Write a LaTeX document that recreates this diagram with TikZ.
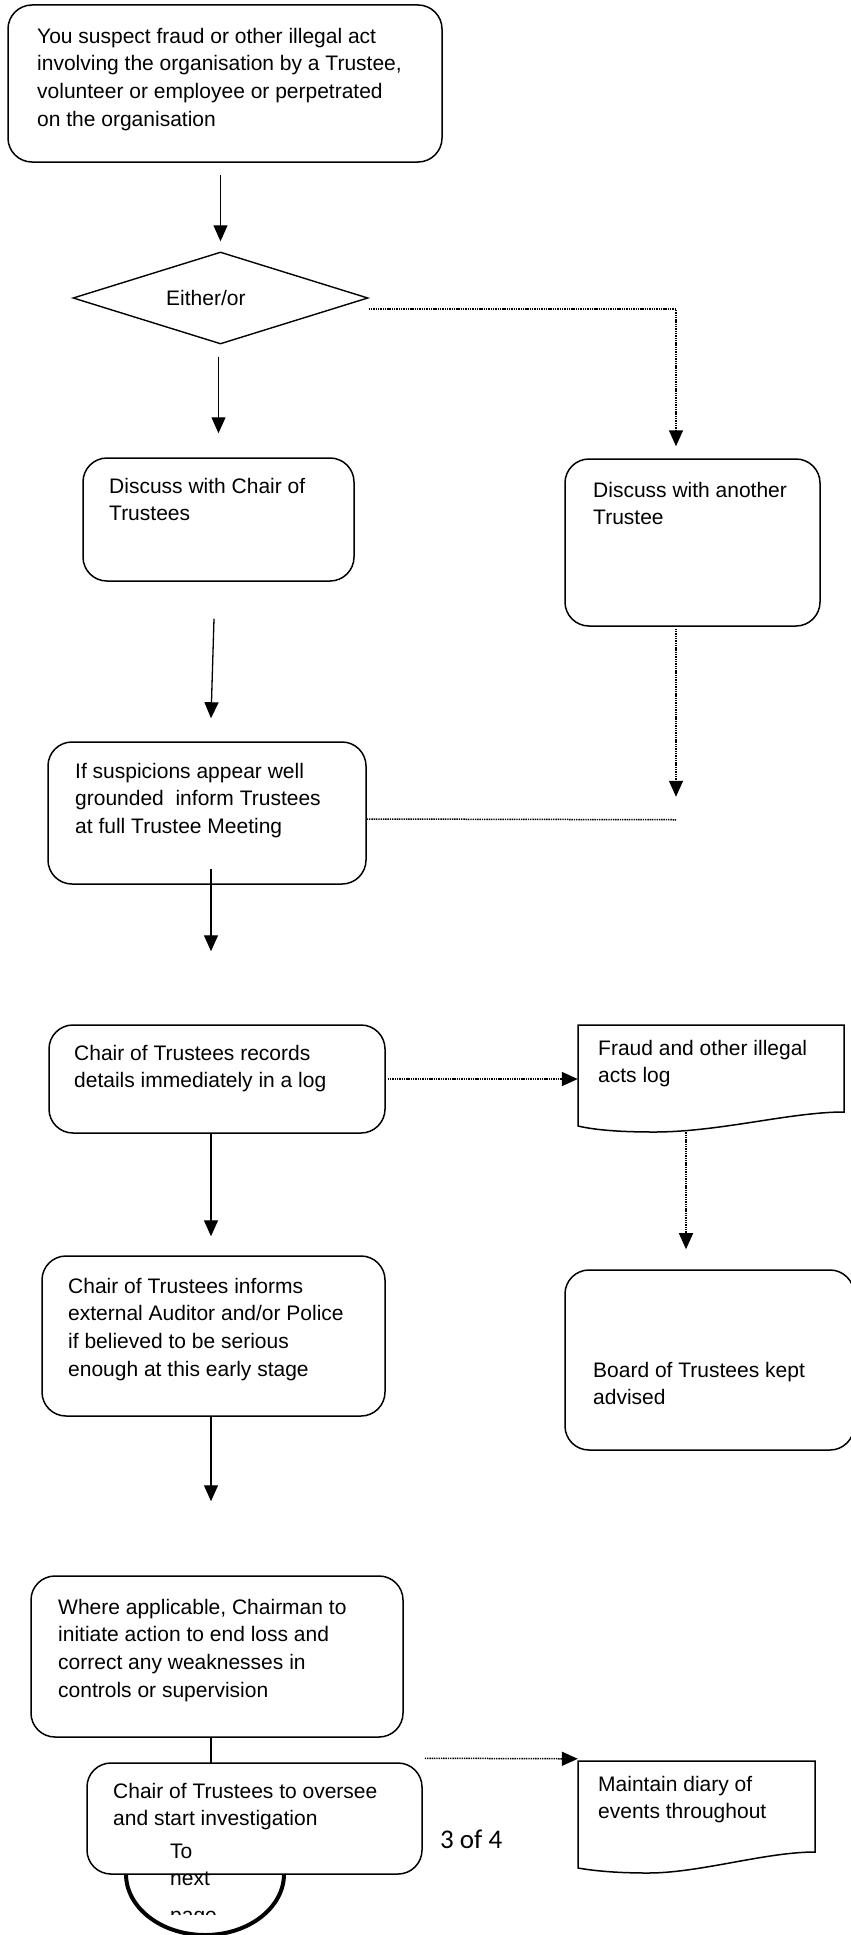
\documentclass[tikz,border=0pt]{standalone}
\usepackage{fontspec}
\setmainfont{Liberation Sans}
\newfontfamily\carlito{Carlito}
\usetikzlibrary{arrows.meta,calc,shapes.geometric}
\begin{document}
\begin{tikzpicture}[x=1pt,y=-1pt,
  box/.style={draw,line width=1.5pt,rounded corners=24pt,fill=white,inner sep=0pt},
  txt/.style={anchor=base west,align=left,inner sep=0pt,font=\fontsize{21}{27.8}\selectfont},
  tip/.style={-{Triangle[length=16pt,width=14pt]}},
  arr/.style={line width=1.3pt,tip},
  plain/.style={line width=1.3pt},
  dotline/.style={line width=1.5pt,dash pattern=on 1.4pt off 0.9pt},
  docshape/.style={draw=none,inner sep=0pt},
  docline/.style={line width=1.5pt}]
\fill[white] (0,0) rectangle (851,1935);
\useasboundingbox (0,0) rectangle (851,1935);

% boxes (text nodes are anchored at the baseline of their last line)
\node[box,minimum width=434pt,minimum height=157pt] (start) at (225,83.5) {};
\node[txt] (startT) at (37,126.4) {You suspect fraud or other illegal act\\involving the organisation by a Trustee,\\volunteer or employee or perpetrated\\on the organisation};

\node[draw,diamond,line width=1.4pt,minimum width=295pt,minimum height=92pt,inner sep=0pt,aspect=3.2] (choice) at (220.5,298) {};
\node[txt] (choiceT) at (166,305) {Either/or};

\node[box,minimum width=271pt,minimum height=123pt] (chair) at (218.5,519.5) {};
\node[txt] (chairT) at (109,520.8) {Discuss with Chair of\\Trustees};

\node[box,minimum width=255pt,minimum height=167pt] (another) at (692.5,542.5) {};
\node[txt] (anotherT) at (593,524.8) {Discuss with another\\Trustee};

\node[box,minimum width=318pt,minimum height=142pt] (susp) at (207,813) {};
\node[txt] (suspT) at (75,833.6) {If suspicions appear well\\grounded\ \ inform Trustees\\at full Trustee Meeting};

\node[box,minimum width=336pt,minimum height=108pt] (records) at (217,1079) {};
\node[txt] (recordsT) at (74,1087.8) {Chair of Trustees records\\details immediately in a log};

\node[docshape,minimum width=266pt,minimum height=107pt] (fraudlog) at (711,1078.5) {};
\draw[docline] (578,1025) -- (844,1025) -- (844,1112)
  .. controls (790,1112) and (720,1132) .. (654,1132)
  .. controls (620,1132) and (595,1130) .. (578,1126) -- cycle;
\node[txt] (fraudlogT) at (598,1082.8) {Fraud and other illegal\\acts log};

\node[box,minimum width=343pt,minimum height=160pt] (informs) at (213.5,1336) {};
\node[txt] (informsT) at (68,1376.4) {Chair of Trustees informs\\external Auditor and/or Police\\if believed to be serious\\enough at this early stage};

\node[box,minimum width=289pt,minimum height=180pt] (board) at (709.5,1360) {};
\node[txt] (boardT) at (593,1404.8) {Board of Trustees kept\\advised};

\node[box,minimum width=372pt,minimum height=161pt] (where) at (217,1656.5) {};
\node[txt] (whereT) at (58,1697.4) {Where applicable, Chairman to\\initiate action to end loss and\\correct any weaknesses in\\controls or supervision};

\node[draw,ellipse,line width=4pt,minimum width=158pt,minimum height=122pt,inner sep=0pt] (offpage) at (205,1874) {};

\draw[plain] ($(where.south)+(-6,0)$) -- ($(where.south)+(-6,26)$) coordinate (overseeTop);

\node[box,minimum width=335pt,minimum height=111pt] (oversee) at (254.5,1818.5) {};
\node[txt] (overseeT) at (113,1825.8) {Chair of Trustees to oversee\\and start investigation};

\node[docshape,minimum width=237pt,minimum height=112pt] (maintain) at (696.5,1817) {};
\draw[docline] (578,1761) -- (815,1761) -- (815,1852)
  .. controls (765,1852) and (700,1873) .. (648,1873)
  .. controls (618,1873) and (595,1871) .. (578,1868) -- cycle;
\node[txt] (maintainT) at (598,1818.8) {Maintain diary of\\events throughout};

\node[anchor=base west,inner sep=0pt,font=\carlito\fontsize{27}{32}\selectfont] (pagenum) at (440,1848) {3 of 4};

\node[txt] (toT) at (170,1885.8) {To\\next};
\begin{scope}
  \clip (150,1909) rectangle (260,1914);
  \node[txt] (pageT) at (170,1922) {page};
\end{scope}

% connectors
\draw[arr,shorten <=12pt,shorten >=10pt] (start.south -| choice.north) -- (choice.north);
\draw[arr,shorten <=12pt,shorten >=24pt] (choice.south -| chair.north) -- (chair.north);
\draw[dotline,tip] ($(choice.east)+(0,11)$) -| ($(another.north)+(-16.5,-12)$);
\draw[arr] ($(chair.south)+(-4.5,37)$) -- ($(susp.north)+(4,-23)$);
\draw[dotline,tip] ($(another.south)+(-16.5,2)$) -- ($(another.south)+(-16.5,170)$);
\coordinate (joinR) at ($(another.south)+(-16.5,193)$);
\draw[dotline] ($(susp.east)+(0,6)$) -- (joinR);
\draw[arr] ($(susp.south)+(4,-16)$) -- ($(records.north)+(-6,-73)$);
\draw[dotline,tip] ($(records.east)+(2,0)$) -- (records.east -| fraudlog.west);
\draw[dotline,tip] ($(fraudlog.south)+(-25,0)$) -- ($(fraudlog.south)+(-25,117)$);
\draw[arr] ($(records.south)+(-6,0)$) -- ($(informs.north)+(-2.5,-19)$);
\draw[arr] ($(informs.south)+(-2.5,0)$) -- ($(where.north)+(-6,-74)$);
\draw[dotline,tip] ($(oversee.north east)+(2,-4)$) -- ($(maintain.north west)+(0,-2)$);
\end{tikzpicture}
\end{document}
